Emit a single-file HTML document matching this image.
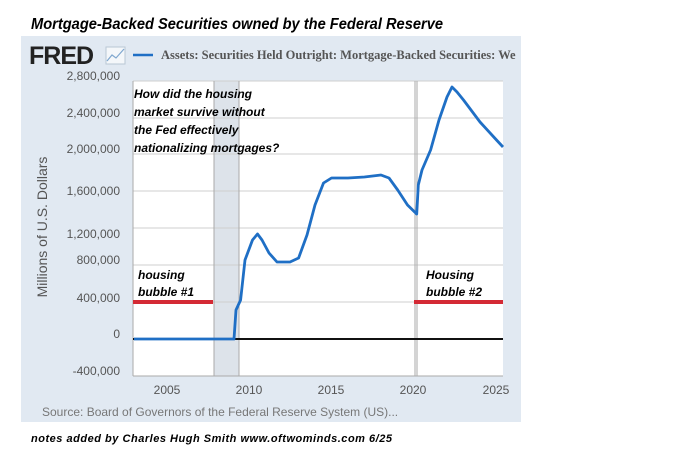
<!DOCTYPE html>
<html><head><meta charset="utf-8"><style>
body{margin:0;background:#fff;width:681px;height:463px;overflow:hidden}
</style></head><body>
<svg width="681" height="463" xmlns="http://www.w3.org/2000/svg" font-family="Liberation Sans, sans-serif">
<rect x="0" y="0" width="681" height="463" fill="#fff"/>
<text x="31" y="29" font-size="16" font-weight="bold" font-style="italic" fill="#000" textLength="412" lengthAdjust="spacingAndGlyphs">Mortgage-Backed Securities owned by the Federal Reserve</text>
<rect x="21" y="36" width="500" height="386" fill="#e1e9f2"/>
<text x="29" y="64" font-size="25" font-weight="bold" fill="#222" letter-spacing="-1">FRED</text>
<rect x="106" y="47" width="19" height="17" fill="#f4f7fa" stroke="#b9c7d4"/>
<polyline points="107,61 112,55 116,58 124,49" fill="none" stroke="#7fa7cf" stroke-width="1.2"/>
<line x1="133" y1="55" x2="153" y2="55" stroke="#1f6fc5" stroke-width="2.5"/>
<text x="161" y="59" font-size="12.5" font-weight="bold" fill="#555" font-family="Liberation Serif, serif">Assets: Securities Held Outright: Mortgage-Backed Securities: We</text>
<rect x="133" y="81" width="370" height="295" fill="#fff"/>
<rect x="214" y="81" width="25" height="295" fill="#dde3ea"/>
<g stroke="#cfcfcf" stroke-width="1">
<line x1="133" y1="81" x2="503" y2="81"/><line x1="133" y1="118" x2="503" y2="118"/>
<line x1="133" y1="154" x2="503" y2="154"/><line x1="133" y1="191" x2="503" y2="191"/>
<line x1="133" y1="228" x2="503" y2="228"/><line x1="133" y1="265" x2="503" y2="265"/>
<line x1="133" y1="302" x2="503" y2="302"/>
</g>
<line x1="214" y1="81" x2="214" y2="376" stroke="#aaa"/>
<line x1="239" y1="81" x2="239" y2="376" stroke="#aaa"/>
<line x1="415" y1="81" x2="415" y2="376" stroke="#aaa"/>
<line x1="417" y1="81" x2="417" y2="376" stroke="#aaa"/>
<line x1="133" y1="81" x2="133" y2="376" stroke="#aaa"/>
<line x1="133" y1="376" x2="503" y2="376" stroke="#aaa"/>
<g font-size="12" fill="#555" text-anchor="end">
<text x="120" y="80">2,800,000</text><text x="120" y="117">2,400,000</text>
<text x="120" y="153">2,000,000</text><text x="120" y="195">1,600,000</text>
<text x="120" y="238">1,200,000</text><text x="120" y="264">800,000</text>
<text x="120" y="302">400,000</text><text x="120" y="338">0</text>
<text x="120" y="375">-400,000</text>
</g>
<g font-size="12" fill="#555" text-anchor="middle">
<text x="167" y="394">2005</text><text x="249" y="394">2010</text>
<text x="331" y="394">2015</text><text x="413" y="394">2020</text><text x="496" y="394">2025</text>
</g>
<text transform="translate(47,227) rotate(-90)" font-size="14" fill="#555" text-anchor="middle">Millions of U.S. Dollars</text>
<text x="42" y="416" font-size="12" fill="#777">Source: Board of Governors of the Federal Reserve System (US)...</text>
<line x1="133" y1="339" x2="503" y2="339" stroke="#111" stroke-width="2"/>
<line x1="133" y1="302" x2="213" y2="302" stroke="#d42a35" stroke-width="4"/>
<line x1="414" y1="302" x2="503" y2="302" stroke="#d42a35" stroke-width="4"/>
<polyline fill="none" stroke="#1f6fc5" stroke-width="2.8" stroke-linejoin="round" points="134,339 234,339 236,310 240.6,300 245,260 252.5,240 257.5,234 262,240 269,253 277,262 290,262 298.6,258 307,235 315,205 323.5,183 331.5,178 348,178 364.4,177 381,175 389,178 397.7,190 407.5,205 416.7,214 418.3,185 422,170 430.6,150 439,120 447,97 452,87 457,92 463.5,100 480,122 496.5,140 503,147"/>
<g font-size="12" font-weight="bold" font-style="italic" fill="#000">
<text x="134" y="98">How did the housing</text>
<text x="134" y="116">market survive without</text>
<text x="134" y="134">the Fed effectively</text>
<text x="134" y="152">nationalizing mortgages?</text>
<text x="138" y="279">housing</text>
<text x="138" y="296">bubble #1</text>
<text x="426" y="279">Housing</text>
<text x="426" y="296">bubble #2</text>
</g>
<text x="31" y="442" font-size="11" font-weight="bold" font-style="italic" fill="#000" textLength="361" lengthAdjust="spacing">notes added by Charles Hugh Smith  www.oftwominds.com   6/25</text>
</svg>
</body></html>
